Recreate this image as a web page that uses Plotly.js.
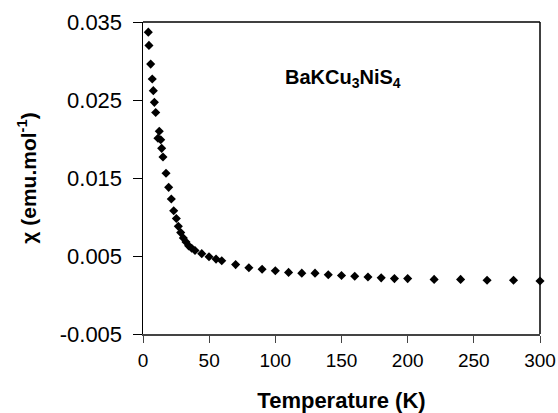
<!DOCTYPE html>
<html>
<head>
<meta charset="utf-8">
<script src="https://cdn.plot.ly/plotly-3.0.1.min.js"></script>
<style>html,body{margin:0;padding:0;background:#fff;}#chart{width:558px;height:413px;}</style>
</head>
<body>
<div id="chart"></div>
<script>
// Temperature (K)
const temperature = [4.0, 4.5, 5.8, 7.0, 7.8, 8.6, 9.6, 11.3, 12.3, 13.4, 14.1, 15.1, 17.4, 19.4, 21.4, 23.2, 25.2, 26.7, 28.5, 30.5, 32.5, 34.5, 36.8, 39.3, 44.4, 49.9, 55.2, 59.5,
  70, 80, 90, 100, 110, 120, 130, 140, 150, 160, 170, 180, 190, 200, 220, 240, 260, 280, 300];
// Susceptibility chi (emu/mol)
const chi = [0.0337, 0.0320, 0.0296, 0.0277, 0.0262, 0.0247, 0.0234, 0.0201, 0.0210, 0.0199, 0.0188, 0.0177, 0.0156, 0.0138, 0.0123, 0.0108, 0.0098, 0.0088, 0.0080, 0.0073, 0.0068, 0.0063, 0.0060, 0.0057, 0.0053, 0.0049, 0.0046, 0.0044,
  0.0039, 0.0035, 0.0033, 0.0031, 0.0029, 0.0028, 0.0028, 0.0026, 0.0025, 0.0024, 0.0023, 0.0022, 0.0021, 0.0021, 0.0020, 0.0020, 0.0019, 0.0019, 0.0018];
const yTickVals = [-0.005, 0.005, 0.015, 0.025, 0.035];
const yTickText = ["-0.005", "0.005", "0.015", "0.025", "0.035"];
const xTickVals = [0, 50, 100, 150, 200, 250, 300];
const compoundLabel = "BaKCu<sub>3</sub>NiS<sub>4</sub>";

const font = "Arial, 'Liberation Sans', sans-serif";

Plotly.newPlot('chart', [{
  x: temperature, y: chi, type: 'scatter', mode: 'markers',
  marker: {symbol: 'diamond', size: 7, color: '#000'},
  cliponaxis: false, showlegend: false
}], {
  width: 558, height: 413,
  margin: {l: 143, r: 18, t: 22, b: 79},
  paper_bgcolor: '#fff', plot_bgcolor: '#fff',
  font: {family: font, color: '#000'},
  xaxis: {
    range: [0, 300], tickvals: xTickVals, ticks: 'outside', ticklen: 7, tickcolor: '#444',
    showline: true, linecolor: '#444', linewidth: 1.5, mirror: false, showgrid: false, zeroline: false,
    tickfont: {size: 19, family: font}, ticklabelstandoff: 2,
    title: {text: '<b>Temperature (K)</b>', font: {size: 22, family: font}, standoff: 22}
  },
  yaxis: {
    range: [-0.005, 0.035], tickvals: yTickVals, ticktext: yTickText, ticks: 'outside', ticklen: 9, tickcolor: '#000',
    showline: true, linecolor: '#000', linewidth: 1.5, showgrid: false, zeroline: false,
    tickfont: {size: 22, family: font}, ticklabelstandoff: 6,
    title: {text: '<b>χ (emu.mol<sup>-1</sup>)</b>', font: {size: 21, family: font}, standoff: 17}
  },
  shapes: [
    {type: 'line', xref: 'paper', yref: 'paper', x0: 0, x1: 1, y0: 1, y1: 1, line: {color: '#000', width: 1.5}},
    {type: 'line', xref: 'paper', yref: 'paper', x0: 1, x1: 1, y0: 0, y1: 1, line: {color: '#000', width: 1.5}}
  ],
  annotations: [{
    text: '<b>' + compoundLabel + '</b>', xref: 'paper', yref: 'paper', x: 0.505, y: 0.82,
    xanchor: 'center', yanchor: 'middle', showarrow: false, font: {size: 20, family: font}
  }]
}, {staticPlot: true});
</script>
</body>
</html>
